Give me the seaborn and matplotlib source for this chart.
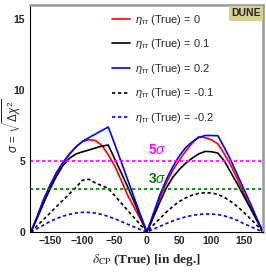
import numpy as np
import pandas as pd
import matplotlib
matplotlib.use("Agg")
import matplotlib.pyplot as plt
import seaborn as sns
from matplotlib import font_manager

# true delta_CP grid (deg)
delta_cp = list(range(-180, 181, 10))

# sigma = sqrt(delta chi^2), one list per eta_tautau (True)
sig_eta_0 = [0, 1.1, 2.3, 3.3, 4.2, 4.9, 5.5, 6.0, 6.38, 6.5, 6.45, 6.1, 5.45, 4.65, 3.65, 2.6, 1.75, 0.9,
             0, 1.2, 2.4, 3.45, 4.35, 5.05, 5.7, 6.25, 6.72, 6.65, 6.5, 6.2, 5.5, 4.7, 3.75, 2.75, 1.8, 0.9, 0]
sig_eta_p01 = [0, 1.0, 2.05, 3.05, 3.95, 4.7, 5.2, 5.5, 5.65, 5.78, 5.92, 6.05, 6.13, 5.15, 4.2, 3.2, 2.15, 1.05,
               0, 1.05, 2.1, 3.1, 3.85, 4.4, 4.85, 5.2, 5.5, 5.68, 5.66, 5.56, 5.0, 4.2, 3.4, 2.55, 1.7, 0.85, 0]
sig_eta_p02 = [0, 1.1, 2.3, 3.3, 4.2, 4.9, 5.5, 6.0, 6.38, 6.65, 6.9, 7.15, 7.4, 6.2, 4.95, 3.7, 2.45, 1.2,
               0, 1.3, 2.6, 3.7, 4.6, 5.35, 5.95, 6.35, 6.65, 6.8, 6.8, 6.78, 5.95, 5.05, 4.05, 3.05, 2.05, 1.0, 0]
sig_eta_m01 = [0, 0.45, 0.9, 1.35, 1.8, 2.25, 2.7, 3.15, 3.65, 3.72, 3.46, 3.27, 3.07, 2.56, 2.05, 1.53, 1.02, 0.51,
               0, 0.5, 0.95, 1.4, 1.8, 2.15, 2.4, 2.6, 2.72, 2.77, 2.75, 2.65, 2.45, 2.15, 1.8, 1.4, 0.95, 0.5, 0]
sig_eta_m02 = [0, 0.25, 0.5, 0.75, 0.95, 1.12, 1.25, 1.34, 1.39, 1.38, 1.33, 1.24, 1.1, 0.93, 0.75, 0.55, 0.36, 0.17,
               0, 0.2, 0.4, 0.6, 0.78, 0.94, 1.07, 1.17, 1.24, 1.27, 1.27, 1.23, 1.14, 1.0, 0.82, 0.6, 0.4, 0.2, 0]

labels = [r"$\eta_{\tau\tau}$ (True) = 0", r"$\eta_{\tau\tau}$ (True) = 0.1", r"$\eta_{\tau\tau}$ (True) = 0.2",
          r"$\eta_{\tau\tau}$ (True) = -0.1", r"$\eta_{\tau\tau}$ (True) = -0.2"]
series = [sig_eta_0, sig_eta_p01, sig_eta_p02, sig_eta_m01, sig_eta_m02]

sns.set_style("white")
names = {f.name for f in font_manager.fontManager.ttflist}
sans = "Liberation Sans Narrow" if "Liberation Sans Narrow" in names else "Liberation Sans"
plt.rcParams['font.family'] = [sans, 'DejaVu Sans']
plt.rcParams['mathtext.fontset'] = 'custom'
plt.rcParams['mathtext.rm'] = sans
plt.rcParams['mathtext.it'] = sans + ':italic'

df = pd.DataFrame({
    'delta': np.tile(delta_cp, len(series)),
    'sigma': np.concatenate(series),
    'case': np.repeat(labels, len(delta_cp)),
})

fig = plt.figure(figsize=(2.66, 2.73), dpi=100)
ax = fig.add_axes([0.111, 0.150, 0.878, 0.832])

colors = ['#ff0000', '#000000', '#0000ff', '#000000', '#0000ff']
styles = ['-', '-', '-', (0, (2, 1.6)), (0, (2, 1.6))]
for lab, col, ls in zip(labels, colors, styles):
    sns.lineplot(data=df[df['case'] == lab], x='delta', y='sigma', ax=ax, color=col,
                 linestyle=ls, linewidth=1.2, label=lab, legend=False, estimator=None)

ax.axhline(5, color='#ff00ff', linestyle=(0, (2, 1.6)), linewidth=1.2)
ax.axhline(3, color='#007a00', linestyle=(0, (2, 1.6)), linewidth=1.2)
ax.text(2, 5.5, r"5$\sigma$", color='#ff00ff', fontsize=10, fontweight='bold')
ax.text(2, 3.45, r"3$\sigma$", color='#007a00', fontsize=10, fontweight='bold')

ax.set_xlim(-182, 180)
ax.set_ylim(0, 16)
ax.set_xticks([-150, -100, -50, 0, 50, 100, 150])
ax.set_xticks(range(-180, 181, 10), minor=True)
ax.set_yticks([0, 5, 10, 15])
ax.set_yticks(range(0, 17), minor=True)
ax.tick_params(which='major', direction='in', length=6, width=0.6, labelsize=7.5, pad=3)
ax.tick_params(which='minor', direction='in', length=3, width=0.6)
for lab in ax.get_xticklabels() + ax.get_yticklabels():
    lab.set_fontweight('bold')
for side in ['left', 'bottom']:
    ax.spines[side].set_color('black')
    ax.spines[side].set_linewidth(0.8)
for side in ['top', 'right']:
    ax.spines[side].set_color('#999999')
    ax.spines[side].set_linewidth(1.8)

xl = ax.set_xlabel(r"$\delta_{\rm CP}$ (True) [in deg.]", family='Liberation Serif', fontsize=9.5,
                   fontweight='bold', labelpad=4)
xl.set_math_fontfamily('stix')
ax.set_ylabel(r"$\sigma$ = $\sqrt{\Delta\chi^2}$", fontsize=8.5)
ax.yaxis.set_label_coords(-0.025, 0.47)

leg = ax.legend(loc='upper left', bbox_to_anchor=(0.329, 0.99), frameon=False, fontsize=8,
                handlelength=1.6, handletextpad=0.5, labelspacing=0.95, borderpad=0)

ax.text(0.99, 0.985, "DUNE", transform=ax.transAxes, ha='right', va='top', fontsize=7.5,
        fontweight='bold', bbox=dict(boxstyle='square,pad=0.25', facecolor='#d5d28f', edgecolor='none'))

fig.savefig("out.png", dpi=100)
